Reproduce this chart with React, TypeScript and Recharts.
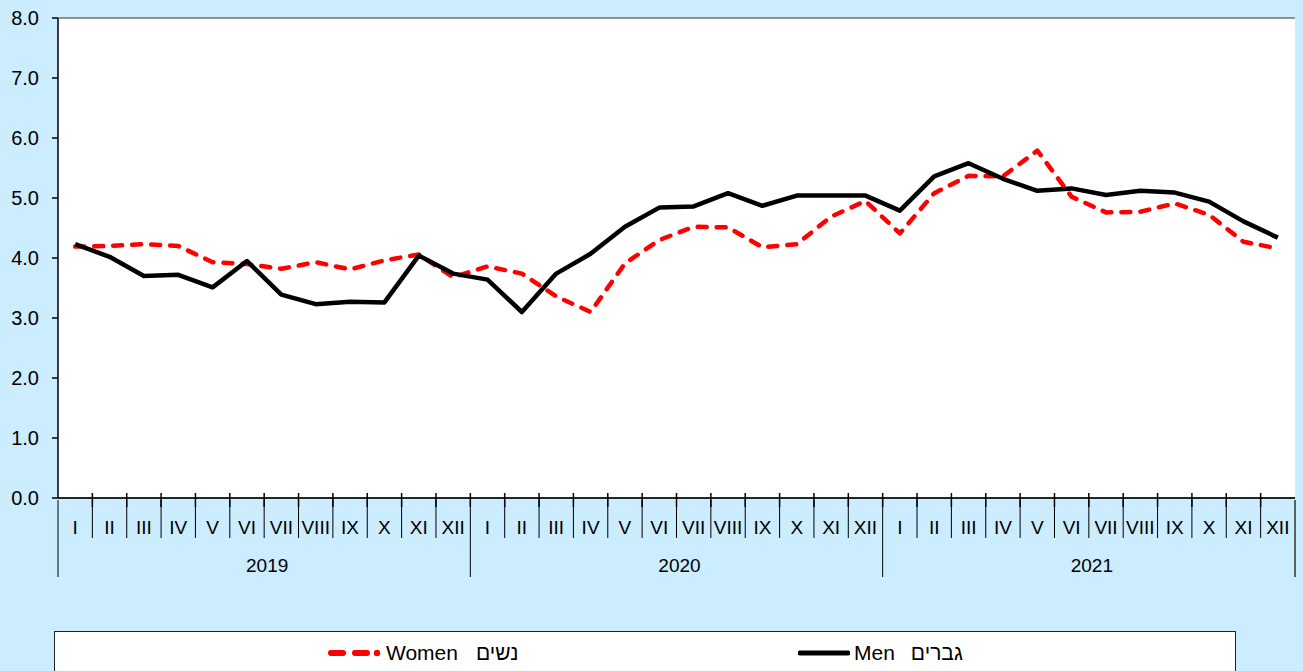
import React from 'react';
import { LineChart, Line, XAxis, YAxis, CartesianGrid, Legend } from 'recharts';

const months = ['I', 'II', 'III', 'IV', 'V', 'VI', 'VII', 'VIII', 'IX', 'X', 'XI', 'XII'];
const years = ['2019', '2020', '2021'];

const women = [
  4.19, 4.2, 4.23, 4.2, 3.93, 3.9, 3.82, 3.93, 3.81, 3.96, 4.06, 3.68,
  3.86, 3.74, 3.36, 3.1, 3.91, 4.3, 4.52, 4.51, 4.18, 4.23, 4.69, 4.95,
  4.41, 5.08, 5.37, 5.36, 5.79, 5.02, 4.76, 4.77, 4.91, 4.72, 4.27, 4.16,
];
const men = [
  4.23, 4.02, 3.7, 3.72, 3.51, 3.95, 3.39, 3.23, 3.27, 3.26, 4.04, 3.74,
  3.64, 3.1, 3.74, 4.07, 4.52, 4.84, 4.86, 5.08, 4.87, 5.04, 5.04, 5.04,
  4.79, 5.36, 5.58, 5.32, 5.12, 5.16, 5.05, 5.12, 5.09, 4.94, 4.61, 4.34,
];
const yTicks = [0, 1, 2, 3, 4, 5, 6, 7, 8];

const data = years.flatMap((yr, yi) =>
  months.map((m, mi) => ({
    key: `${yr}|${m}`,
    women: women[yi * 12 + mi],
    men: men[yi * 12 + mi],
  }))
);

const W = 1303;
const H = 690;
const MARGIN = { top: 18, right: 8, left: 8, bottom: 0 };
const YW = 50;
const PLOT_W = W - MARGIN.left - MARGIN.right - YW;
const BW = PLOT_W / data.length;
const FONT = '"Liberation Sans", Arial, sans-serif';

const MonthTick = (props: any) => {
  const { x, y, payload } = props;
  const idx = data.findIndex((d) => d.key === payload.value);
  const [yr, m] = String(payload.value).split('|');
  const mi = idx % 12;
  const left = x - BW / 2;
  const right = x + BW / 2;
  const last = idx === data.length - 1;
  return (
    <g>
      {idx > 0 && <line x1={left} x2={left} y1={y - 7} y2={y + 7} stroke="#000" strokeWidth={1.5} />}
      <line x1={left} x2={left} y1={y} y2={mi === 0 ? y + 77 : y + 38} stroke="#000" strokeWidth={1} />
      {last && <line x1={right} x2={right} y1={y} y2={y + 77} stroke="#333" strokeWidth={1.5} />}
      <text x={x} y={y + 27} dy="0.355em" textAnchor="middle" fill="#000" fontSize={19} fontFamily={FONT}>
        {m}
      </text>
      {mi === 6 && (
        <text x={left + 3} y={y + 65} dy="0.355em" textAnchor="middle" fill="#000" fontSize={19} fontFamily={FONT}>
          {yr}
        </text>
      )}
    </g>
  );
};

const LegendBox = () => (
  <div
    style={{
      position: 'relative',
      boxSizing: 'border-box',
      height: 59,
      width: 1182,
      background: '#fff',
      border: '1px solid #222',
      fontFamily: FONT,
      fontSize: 21,
      color: '#000',
    }}
  >
    <div style={{ position: 'absolute', left: 273, top: 9, display: 'flex', alignItems: 'center', direction: 'ltr' }}>
      <svg width={54} height={12} style={{ marginRight: 4 }}>
        <line x1={3} x2={15} y1={6} y2={6} stroke="#FF0000" strokeWidth={6} strokeLinecap="round" />
        <line x1={27} x2={39} y1={6} y2={6} stroke="#FF0000" strokeWidth={6} strokeLinecap="round" />
        <circle cx={49} cy={6} r={3.2} fill="#FF0000" />
      </svg>
      <span>Women</span>
      <span style={{ marginLeft: 18 }}>נשים</span>
    </div>
    <div style={{ position: 'absolute', left: 743, top: 9, display: 'flex', alignItems: 'center', direction: 'ltr' }}>
      <svg width={52} height={12} style={{ marginRight: 4 }}>
        <line x1={2} x2={50} y1={6} y2={6} stroke="#000" strokeWidth={5} strokeLinecap="round" />
      </svg>
      <span>Men</span>
      <span style={{ marginLeft: 16 }}>גברים</span>
    </div>
  </div>
);

export default function App() {
  return (
    <div
      style={{
        position: 'absolute',
        left: 0,
        top: 0,
        width: W,
        height: 671,
        overflow: 'hidden',
        background: '#CCECFF',
      }}
    >
      <LineChart width={W} height={H} data={data} margin={MARGIN} style={{ fontFamily: FONT }}>
        <CartesianGrid vertical={false} stroke="#333" fill="#fff" fillOpacity={1} />
        <XAxis
          dataKey="key"
          interval={0}
          tickSize={0}
          tickLine={false}
          axisLine={{ stroke: '#000', strokeWidth: 1.5 }}
          height={133}
          padding={{ left: BW / 2, right: BW / 2 }}
          tick={<MonthTick />}
        />
        <YAxis
          yAxisId="l"
          width={YW}
          domain={[0, 8]}
          ticks={yTicks}
          interval={0}
          tickFormatter={(v: number) => v.toFixed(1)}
          tick={{ fill: '#000', fontSize: 20, fontFamily: FONT }}
          tickSize={6}
          tickMargin={13}
          axisLine={{ stroke: '#000', strokeWidth: 1.5 }}
          tickLine={{ stroke: '#000', strokeWidth: 1.5 }}
        />
        <YAxis
          yAxisId="r"
          orientation="right"
          width={0}
          domain={[0, 8]}
          ticks={yTicks}
          tick={false}
          tickLine={false}
          axisLine={{ stroke: '#333', strokeWidth: 1.5 }}
        />
        <Line
          yAxisId="l"
          type="linear"
          dataKey="women"
          stroke="#FF0000"
          strokeWidth={4.5}
          strokeDasharray="9 10"
          strokeLinecap="round"
          strokeLinejoin="round"
          dot={false}
          activeDot={false}
          isAnimationActive={false}
        />
        <Line
          yAxisId="l"
          type="linear"
          dataKey="men"
          stroke="#000"
          strokeWidth={4.5}
          strokeLinejoin="round"
          dot={false}
          activeDot={false}
          isAnimationActive={false}
        />
        <Legend
          verticalAlign="bottom"
          content={<LegendBox />}
          wrapperStyle={{ left: 54, width: 1182 }}
        />
      </LineChart>
    </div>
  );
}
